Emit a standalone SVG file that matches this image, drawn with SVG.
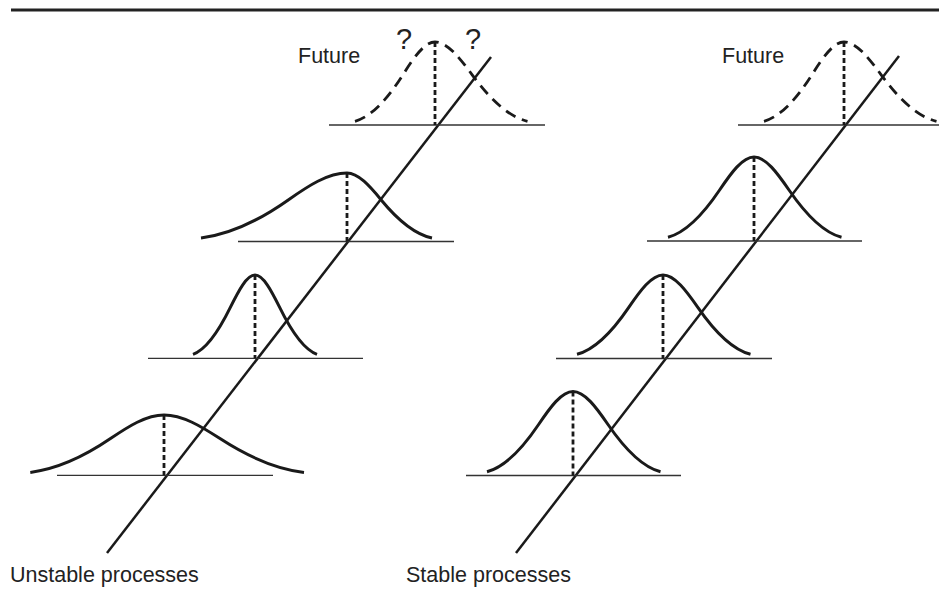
<svg xmlns="http://www.w3.org/2000/svg" width="939" height="593" viewBox="0 0 939 593">
<style>
.bg{fill:#ffffff}
.rule{stroke:#222;stroke-width:3;fill:none}
.curve{stroke:#1a1a1a;stroke-width:3;fill:none;stroke-linecap:butt}
.future{stroke:#1a1a1a;stroke-width:2.8;fill:none;stroke-dasharray:11 7}
.base{stroke:#333;stroke-width:1.3;fill:none}
.mean{stroke:#1a1a1a;stroke-width:2.8;fill:none;stroke-dasharray:5 3}
.axis{stroke:#1a1a1a;stroke-width:2.5;fill:none}
.lbl{font-family:"Liberation Sans",Arial,Helvetica,sans-serif;font-size:21.5px;fill:#222}
.q{font-family:"Liberation Sans",Arial,Helvetica,sans-serif;font-size:29px;fill:#222;text-anchor:middle}
</style>
<rect class="bg" x="0" y="0" width="939" height="593"/>
<line class="rule" x1="11" y1="10" x2="939" y2="10"/>

<g id="connectors">
<line class="axis" x1="107" y1="553" x2="491" y2="57"/>
<line class="axis" x1="516" y1="553" x2="899" y2="56"/>
</g>

<g id="unstable-future">
<line class="base" x1="329" y1="125" x2="545" y2="125"/>
<path class="future" d="M355 121.3 C371 116.8 387 99.9 403 74.6 C413.7 57.9 424.3 42 435 42 C447.3 42 459.7 57.9 472 74.6 C490.5 99.9 509 116.8 527.5 121.3"/>
<line class="mean" x1="435" y1="42" x2="435" y2="125"/>
<text class="lbl" x="298" y="63">Future</text>
<text class="q" x="404" y="49">?</text>
<text class="q" x="473" y="49">?</text>
</g>

<g id="unstable-3">
<line class="base" x1="238" y1="241.5" x2="454" y2="241.5"/>
<path class="curve" d="M201 238 C230.2 234.3 259.4 220.4 288.6 199.7 C308 186 327.6 173 347 173 C358.3 173 369.7 186 381 199.7 C398 220.4 415 234.3 432 238"/>
<line class="mean" x1="347" y1="173" x2="347" y2="241.5"/>
</g>

<g id="unstable-2">
<line class="base" x1="148" y1="358.3" x2="363" y2="358.3"/>
<path class="curve" d="M193 354.3 C205.4 349.8 217.8 332.9 230.2 307.6 C238.5 290.9 246.7 275 255 275 C263.3 275 271.5 290.9 279.8 307.6 C292.2 332.9 304.6 349.8 317 354.3"/>
<line class="mean" x1="255" y1="275" x2="255" y2="358.3"/>
</g>

<g id="unstable-1">
<line class="base" x1="57" y1="475.3" x2="273" y2="475.3"/>
<path class="curve" d="M30.3 472.4 C57 469.1 83.8 456.8 110.5 438.6 C128.3 426.5 146.2 415 164 415 C182.6 415 201.4 426.5 220 438.6 C248 456.8 276 469.1 304 472.4"/>
<line class="mean" x1="164" y1="415" x2="164" y2="475.3"/>
</g>

<g id="stable-future">
<line class="base" x1="738" y1="125" x2="939" y2="125"/>
<path class="future" d="M764 121.3 C780 116.8 796 99.9 812 74.6 C822.7 57.9 833.3 42 844 42 C856.3 42 868.7 57.9 881 74.6 C899.5 99.9 918 116.8 936.5 121.3"/>
<line class="mean" x1="844" y1="42" x2="844" y2="125"/>
<text class="lbl" x="722" y="63">Future</text>
</g>

<g id="stable-3">
<line class="base" x1="647" y1="241" x2="862" y2="241"/>
<path class="curve" d="M668 237.3 C685.2 232.7 702.4 215.5 719.6 190 C731.1 173 742.5 157 754 157 C765.7 157 777.3 173 789 190 C806.5 215.5 824 232.7 841.5 237.3"/>
<line class="mean" x1="754" y1="157" x2="754" y2="241"/>
</g>

<g id="stable-2">
<line class="base" x1="556" y1="358.5" x2="772" y2="358.5"/>
<path class="curve" d="M577 354.3 C594.2 349.8 611.4 332.9 628.6 307.6 C640.1 290.9 651.5 275 663 275 C674.7 275 686.3 290.9 698 307.6 C715.5 332.9 733 349.8 750.5 354.3"/>
<line class="mean" x1="663" y1="275" x2="663" y2="358.5"/>
</g>

<g id="stable-1">
<line class="base" x1="466" y1="475.5" x2="681" y2="475.5"/>
<path class="curve" d="M487 471.8 C504.2 467.2 521.4 450 538.6 424.5 C550.1 407.5 561.5 391.5 573 391.5 C584.7 391.5 596.3 407.5 608 424.5 C625.5 450 643 467.2 660.5 471.8"/>
<line class="mean" x1="573" y1="391.5" x2="573" y2="475.5"/>
</g>

<g id="labels">
<text class="lbl" x="10" y="582">Unstable processes</text>
<text class="lbl" x="406" y="582">Stable processes</text>
</g>
</svg>
